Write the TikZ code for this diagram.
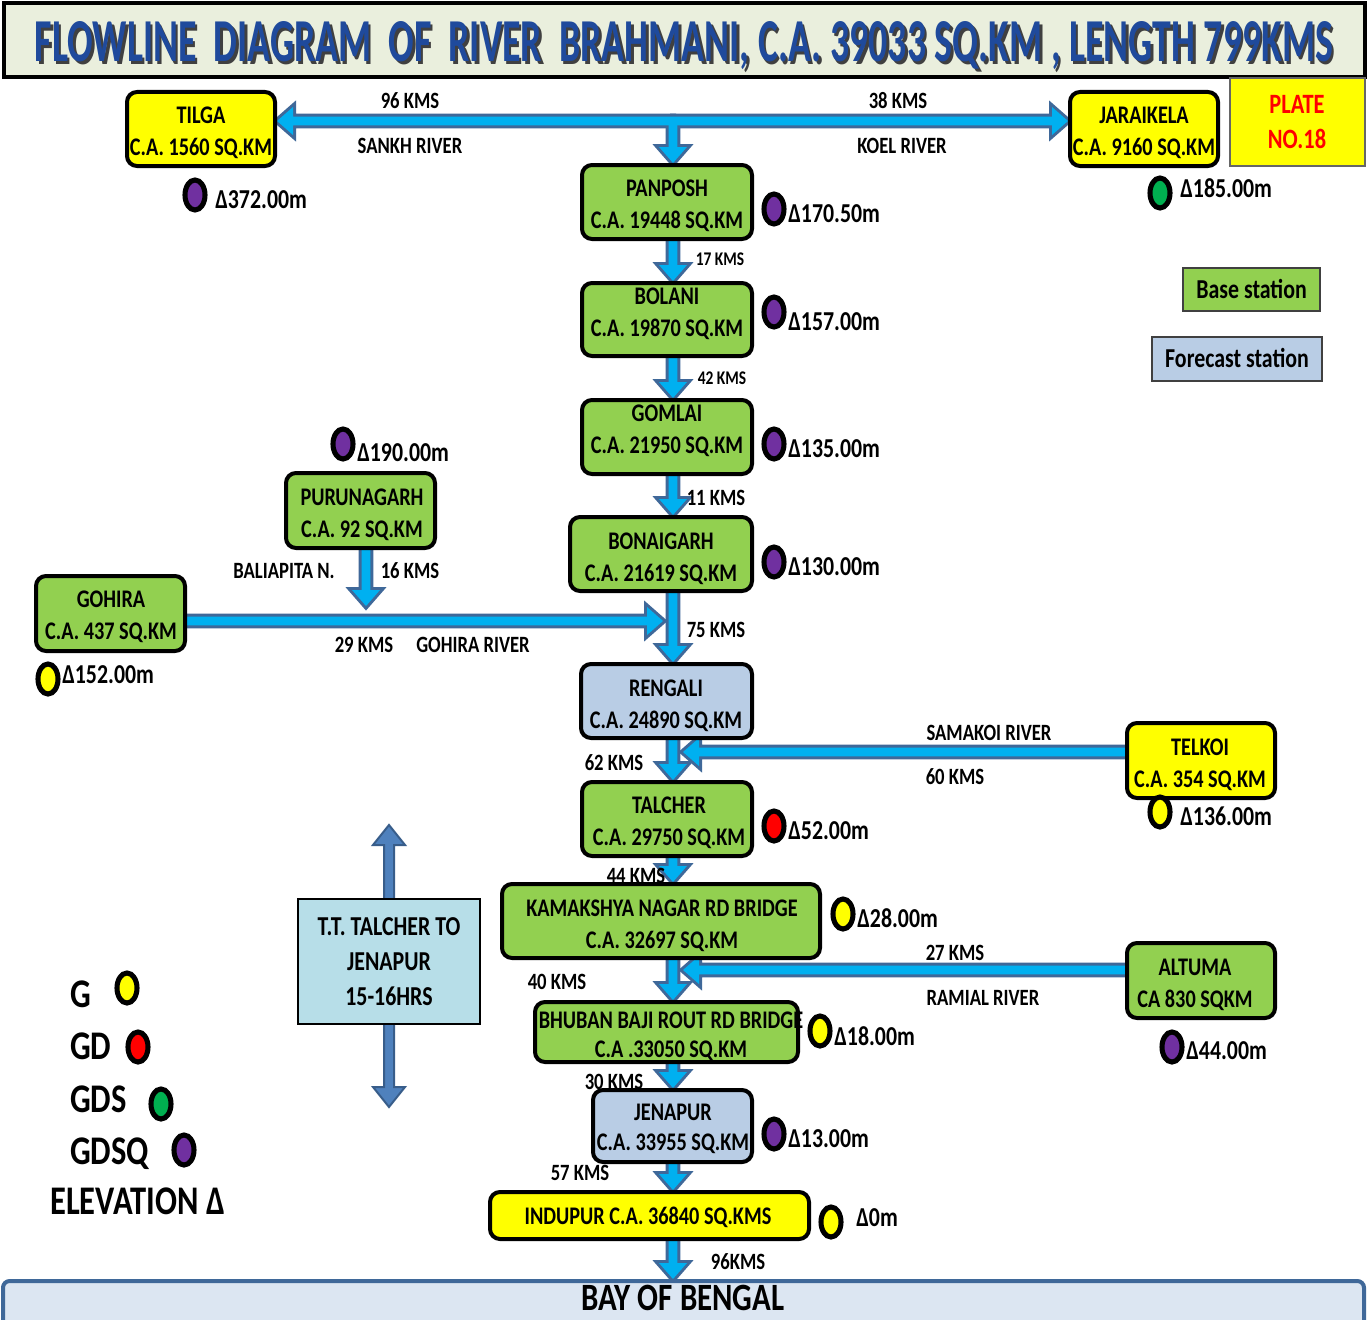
\documentclass[tikz,border=0pt]{standalone}
\usepackage{fontspec}
\setmainfont{Carlito}[FakeStretch=0.8]
\usepackage{graphicx}
\usetikzlibrary{calc,shapes.geometric}
\pgfdeclarelayer{bg}
\pgfsetlayers{bg,main}
\definecolor{stgreen}{HTML}{92D050}
\definecolor{styellow}{HTML}{FFFF00}
\definecolor{stblue}{HTML}{B9CDE5}
\definecolor{ttblue}{HTML}{B7DEE8}
\definecolor{flowfill}{HTML}{00B0F0}
\definecolor{flowline}{HTML}{3F6899}
\definecolor{dafill}{HTML}{4F81BD}
\definecolor{daline}{HTML}{385D8A}
\definecolor{titlebg}{HTML}{EAEFDD}
\definecolor{titleblue}{HTML}{1F4A9C}
\definecolor{baybg}{HTML}{DCE6F2}
\definecolor{mpurple}{HTML}{7030A0}
\definecolor{mgreen}{HTML}{00B050}
\definecolor{mred}{HTML}{FF0000}
\newcommand\myst{\fontsize{19}{24}\selectfont\bfseries}
\newcommand\mydist{\fontsize{17.5}{21}\selectfont\bfseries}
\newcommand\mysmall{\fontsize{14.5}{18}\selectfont\bfseries}
\newcommand\myelev{\fontsize{20.5}{24}\selectfont\bfseries}
\newcommand\myleg{\fontsize{30.5}{36}\selectfont\bfseries}
\newcommand\mytitle{\bfseries FLOWLINE\ \ DIAGRAM\ \ OF\ \ RIVER\ \ BRAHMANI, C.A. 39033 SQ.KM , LENGTH 799KMS}
% block arrow: [style]{from}{to}{half shaft}{half head}{head length}
\newcommand\blockarrow[6][]{%
  \path[#1] let \p1=(#2), \p2=(#3), \n1={atan2(\y2-\y1,\x2-\x1)} in
   ($(\p1)+(\n1+90:#4)$) -- ($(\p2)+(\n1+180:#6)+(\n1+90:#4)$) --
   ($(\p2)+(\n1+180:#6)+(\n1+90:#5)$) -- (\p2) --
   ($(\p2)+(\n1+180:#6)+(\n1-90:#5)$) -- ($(\p2)+(\n1+180:#6)+(\n1-90:#4)$) --
   ($(\p1)+(\n1-90:#4)$) -- cycle;}
\newcommand\flow[3][]{\blockarrow[#1]{#2}{#3}{3.2pt}{10.5pt}{12pt}}
\newcommand\allflows[1]{%
  \flow[#1]{jn}{tilga.east |- jn}
  \flow[#1]{jn}{jaraikela.west |- jn}
  \flow[#1]{jn}{spine |- panposh.north}
  \flow[#1]{spine |- panposh.center}{spine |- bolani.north}
  \flow[#1]{spine |- bolani.center}{spine |- gomlai.north}
  \flow[#1]{spine |- gomlai.center}{spine |- bonaigarh.north}
  \flow[#1]{spine |- bonaigarh.center}{spine |- rengali.north}
  \flow[#1]{gohira.center |- gtip}{gtip}
  \flow[#1]{ptip |- purunagarh.center}{ptip}
  \flow[#1]{spine |- rengali.center}{spine |- talcher.north}
  \flow[#1]{telkoi.center |- ttip}{ttip}
  \flow[#1]{spine |- talcher.center}{spine |- kamakshya.north}
  \flow[#1]{spine |- kamakshya.center}{spine |- bhuban.north}
  \flow[#1]{altuma.center |- atip}{atip}
  \flow[#1]{spine |- bhuban.center}{spine |- jenapur.north}
  \flow[#1]{spine |- jenapur.center}{spine |- indupur.north}
  \flow[#1]{spine |- indupur.center}{spine |- bay.north}}
\tikzset{
  sz/.style 2 args={minimum width=#1*0.75pt, minimum height=#2*0.75pt},
  station/.style={draw=black, line width=3pt, rounded corners=7.5pt, inner sep=0pt},
  stxt/.style={align=center, inner sep=0pt, font=\myst},
  lbl/.style={inner sep=0pt, font=\mydist, text height=11pt, text depth=0pt},
  slbl/.style={inner sep=0pt, font=\mysmall, text height=9.2pt, text depth=0pt},
  marker/.style={ellipse, draw=black, line width=3.8pt, minimum width=15pt, minimum height=22.5pt, inner sep=0pt},
  elev/.style={anchor=west, inner sep=0pt, font=\myelev, text height=12.9pt, text depth=0pt},
  legtxt/.style={anchor=west, inner sep=0pt, font=\myleg, text height=19.3pt, text depth=0pt},
  flowout/.style={draw=flowline, fill=flowline, line width=4.5pt},
  flowin/.style={fill=flowfill},
}
\begin{document}
\begin{tikzpicture}[x=0.75pt,y=-0.75pt]
\useasboundingbox (0,0) rectangle (1367,1320);
\begin{pgfonlayer}{bg}
\fill[white] (0,0) rectangle (1367,1320);
\end{pgfonlayer}
% title
\node[draw=black, line width=3pt, fill=titlebg, sz={1361}{74}] (title) at (684,40) {};
\node[anchor=base, inner sep=0pt, text=black!75] (title-s) at (686.5,64.5) {\resizebox{973.5pt}{30pt}{\mytitle}};
\node[anchor=base, inner sep=0pt, text=titleblue] (title-t) at (684,62) {\resizebox{973.5pt}{30pt}{\mytitle}};
% helper coordinates
\coordinate (spine) at (673,0);
\coordinate (jn) at (673,121);
\coordinate (gtip) at (663,621);
\coordinate (ptip) at (366,606);
\coordinate (ttip) at (683,752);
\coordinate (atip) at (683,970);
\coordinate (ttup) at (389,825);
\coordinate (ttdn) at (389,1107);
% stations
\node[station, fill=styellow, sz={148}{74}] (tilga) at (201,129) {};
\node[stxt] (tilga-t) at (201,133) {TILGA\\C.A. 1560 SQ.KM};
\node[station, fill=styellow, sz={148}{74}] (jaraikela) at (1144,129) {};
\node[stxt] (jaraikela-t) at (1144,133) {JARAIKELA\\C.A. 9160 SQ.KM};
\node[draw=black!60, line width=1.5pt, fill=styellow, sz={135}{88}] (plate) at (1297.5,122) {};
\node[align=center, inner sep=0pt, text=red, font=\fontsize{21}{26}\selectfont\bfseries] (plate-t) at (1297,122) {PLATE\\NO.18};
\node[station, fill=stgreen, sz={170}{74}] (panposh) at (667,202) {};
\node[stxt] (panposh-t) at (667,206) {PANPOSH\\C.A. 19448 SQ.KM};
\node[station, fill=stgreen, sz={170}{73}] (bolani) at (667,319.5) {};
\node[stxt] (bolani-t) at (667,313.5) {BOLANI\\C.A. 19870 SQ.KM};
\node[station, fill=stgreen, sz={170}{74}] (gomlai) at (667,437) {};
\node[stxt] (gomlai-t) at (667,431) {GOMLAI\\C.A. 21950 SQ.KM};
\node[station, fill=stgreen, sz={182}{74}] (bonaigarh) at (661,554) {};
\node[stxt] (bonaigarh-t) at (661,559) {BONAIGARH\\C.A. 21619 SQ.KM};
\node[station, fill=stblue, sz={171}{74}] (rengali) at (666.5,701) {};
\node[stxt] (rengali-t) at (666,706) {RENGALI\\C.A. 24890 SQ.KM};
\node[station, fill=stgreen, sz={170}{74}] (talcher) at (667,819) {};
\node[stxt] (talcher-t) at (669,823) {TALCHER\\C.A. 29750 SQ.KM};
\node[station, fill=stgreen, sz={318}{74}] (kamakshya) at (661,921) {};
\node[stxt] (kamakshya-t) at (662,926) {KAMAKSHYA NAGAR RD BRIDGE\\C.A. 32697 SQ.KM};
\node[station, fill=stgreen, sz={263}{60}] (bhuban) at (666.5,1032) {};
\node[stxt, font=\fontsize{19}{21.75}\selectfont\bfseries] (bhuban-t) at (671,1036.5) {BHUBAN BAJI ROUT RD BRIDGE\\C.A .33050 SQ.KM};
\node[station, fill=stblue, sz={159}{72}] (jenapur) at (672.5,1126) {};
\node[stxt, font=\fontsize{19}{22.5}\selectfont\bfseries] (jenapur-t) at (673,1129) {JENAPUR\\C.A. 33955 SQ.KM};
\node[station, fill=styellow, sz={319}{47}] (indupur) at (649.5,1215.5) {};
\node[stxt, text height=12pt, text depth=0pt] (indupur-t) at (648,1216) {INDUPUR C.A. 36840 SQ.KMS};
\node[station, fill=stgreen, sz={149}{75}] (purunagarh) at (360.5,510.5) {};
\node[stxt] (purunagarh-t) at (362,515) {PURUNAGARH\\C.A. 92 SQ.KM};
\node[station, fill=stgreen, sz={149}{75}] (gohira) at (110.5,613.5) {};
\node[stxt] (gohira-t) at (111,617) {GOHIRA\\C.A. 437 SQ.KM};
\node[station, fill=styellow, sz={148}{75}] (telkoi) at (1201,760.5) {};
\node[stxt] (telkoi-t) at (1200,765) {TELKOI\\C.A. 354 SQ.KM};
\node[station, fill=stgreen, sz={148}{75}] (altuma) at (1201,980.5) {};
\node[stxt] (altuma-t) at (1195,984.5) {ALTUMA\\CA 830 SQKM};
% legend boxes
\node[draw=black!75, line width=1.5pt, fill=stgreen, sz={137}{43}, inner sep=0pt, font=\fontsize{20.5}{24}\selectfont\bfseries, text height=13pt, text depth=0pt] (base) at (1251.5,289.5) {Base station};
\node[draw=black!75, line width=1.5pt, fill=stblue, sz={170}{44}, inner sep=0pt, font=\fontsize{20.5}{24}\selectfont\bfseries, text height=13pt, text depth=0pt] (forecast) at (1237,359) {Forecast station};
% travel time box
\node[draw=black, line width=2pt, fill=ttblue, sz={182}{125}] (tt) at (389,961.5) {};
\node[align=center, inner sep=0pt, font=\fontsize{20.5}{26.25}\selectfont\bfseries] (tt-t) at (389,962) {T.T. TALCHER TO\\JENAPUR\\15-16HRS};
% bay of bengal
\node[draw=flowline, line width=3pt, fill=baybg, rounded corners=5pt, sz={1361}{52}] (bay) at (683.5,1307) {};
\node[inner sep=0pt, font=\fontsize{29}{34}\selectfont\bfseries, text height=18.4pt, text depth=0pt] (bay-t) at (683,1298) {BAY OF BENGAL};
% markers and elevations
\node[marker, fill=mpurple] (m-tilga) at (195,195) {};
\node[elev] (e-tilga) at (215,200) {Δ372.00m};
\node[marker, fill=mpurple] (m-panposh) at (774,209) {};
\node[elev] (e-panposh) at (788,214) {Δ170.50m};
\node[marker, fill=mgreen] (m-jaraikela) at (1160,193) {};
\node[elev] (e-jaraikela) at (1180,189) {Δ185.00m};
\node[marker, fill=mpurple] (m-bolani) at (774,312) {};
\node[elev] (e-bolani) at (788,322) {Δ157.00m};
\node[marker, fill=mpurple] (m-gomlai) at (774,444) {};
\node[elev] (e-gomlai) at (788,449) {Δ135.00m};
\node[marker, fill=mpurple] (m-purunagarh) at (343,444) {};
\node[elev] (e-purunagarh) at (357,453) {Δ190.00m};
\node[marker, fill=mpurple] (m-bonaigarh) at (774,562) {};
\node[elev] (e-bonaigarh) at (788,567) {Δ130.00m};
\node[marker, fill=styellow] (m-gohira) at (48,679) {};
\node[elev] (e-gohira) at (62,675) {Δ152.00m};
\node[marker, fill=styellow] (m-telkoi) at (1160,812) {};
\node[elev] (e-telkoi) at (1180,817) {Δ136.00m};
\node[marker, fill=mred] (m-talcher) at (774,826) {};
\node[elev] (e-talcher) at (788,831) {Δ52.00m};
\node[marker, fill=styellow] (m-kamakshya) at (843,914) {};
\node[elev] (e-kamakshya) at (857,919) {Δ28.00m};
\node[marker, fill=styellow] (m-bhuban) at (820,1031) {};
\node[elev] (e-bhuban) at (834,1037) {Δ18.00m};
\node[marker, fill=mpurple] (m-altuma) at (1172,1047) {};
\node[elev] (e-altuma) at (1186,1051) {Δ44.00m};
\node[marker, fill=mpurple] (m-jenapur) at (774,1134) {};
\node[elev] (e-jenapur) at (788,1139) {Δ13.00m};
\node[marker, fill=styellow] (m-indupur) at (831,1222) {};
\node[elev] (e-indupur) at (856,1218) {Δ0m};
% legend
\node[legtxt] (lg-g) at (70,995) {G};
\node[marker, fill=styellow] (lm-g) at (127,988) {};
\node[legtxt] (lg-gd) at (70,1047) {GD};
\node[marker, fill=mred] (lm-gd) at (138,1047) {};
\node[legtxt] (lg-gds) at (70,1100) {GDS};
\node[marker, fill=mgreen] (lm-gds) at (161,1104) {};
\node[legtxt] (lg-gdsq) at (70,1152) {GDSQ};
\node[marker, fill=mpurple] (lm-gdsq) at (184,1150) {};
\node[legtxt] (lg-elev) at (50,1202) {ELEVATION Δ};
% distance / river labels
\node[lbl] (d96) at (410,101) {96 KMS};
\node[lbl] (r-sankh) at (410,146) {SANKH RIVER};
\node[lbl] (d38) at (898,101) {38 KMS};
\node[lbl] (r-koel) at (902,146) {KOEL RIVER};
\node[slbl] (d17) at (720,259) {17 KMS};
\node[slbl] (d42) at (722,378) {42 KMS};
\node[lbl] (d11) at (716,498) {11 KMS};
\node[lbl] (r-baliapita) at (284,571) {BALIAPITA N.};
\node[lbl] (d16) at (410,571) {16 KMS};
\node[lbl] (d29) at (364,645) {29 KMS};
\node[lbl] (r-gohira) at (473,645) {GOHIRA RIVER};
\node[lbl] (d75) at (716,630) {75 KMS};
\node[lbl] (r-samakoi) at (989,733) {SAMAKOI RIVER};
\node[lbl] (d60) at (955,777) {60 KMS};
\node[lbl] (d62) at (614,763) {62 KMS};
\node[lbl] (d44) at (636,876) {44 KMS};
\node[lbl] (d27) at (955,953) {27 KMS};
\node[lbl] (r-ramial) at (983,998) {RAMIAL RIVER};
\node[lbl] (d40) at (557,982) {40 KMS};
\node[lbl] (d30) at (614,1082) {30 KMS};
\node[lbl] (d57) at (580,1173) {57 KMS};
\node[lbl] (d96b) at (738,1262) {96KMS};
% arrows behind everything
\begin{pgfonlayer}{bg}
\allflows{flowout}
\allflows{flowin}
\blockarrow[draw=daline, fill=dafill, line width=1.5pt]{tt.center}{ttup}{3.75pt}{12pt}{15pt}
\blockarrow[draw=daline, fill=dafill, line width=1.5pt]{tt.center}{ttdn}{3.75pt}{12pt}{15pt}
\end{pgfonlayer}
\end{tikzpicture}
\end{document}
